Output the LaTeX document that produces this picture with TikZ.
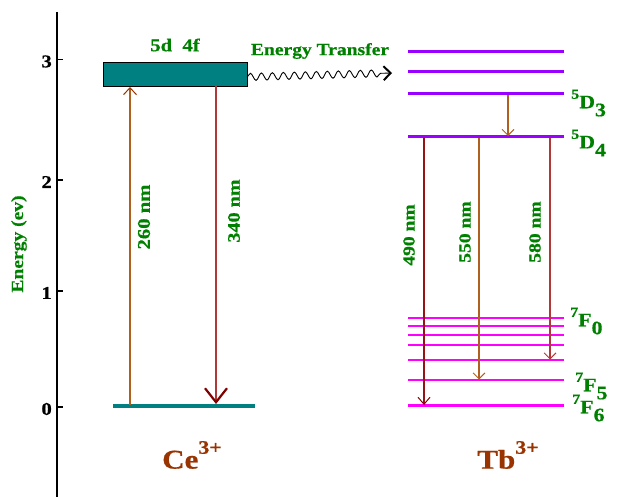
\documentclass[tikz,border=0pt]{standalone}
\usepackage{fontspec}
\newfontfamily\lf{Liberation Serif}[FakeStretch=1.15,FakeBold=0.6]
\usetikzlibrary{arrows.meta,decorations.pathmorphing}
\newcommand\myfs[1]{\fontsize{#1}{#1}\selectfont}
\newcommand\lvl[3]{\raisebox{0.5em}{\myfs{14}#1}#2\raisebox{-0.42em}{#3}}
\definecolor{tgreen}{RGB}{0,128,0}
\definecolor{tteal}{RGB}{0,128,128}
\definecolor{tbrown}{RGB}{153,51,0}
\definecolor{tviolet}{RGB}{153,0,255}
\definecolor{tmag}{RGB}{255,0,255}
\definecolor{aorange}{RGB}{176,96,30}
\definecolor{ared}{RGB}{176,56,56}
\definecolor{adark}{RGB}{150,20,20}
\definecolor{headdark}{RGB}{128,0,0}
\begin{document}
\begin{tikzpicture}[x=1pt,y=-1pt,
  lab/.style={font=\lf\bfseries\myfs{17}, text=tgreen, inner sep=0pt},
  ionlab/.style={font=\lf\bfseries\myfs{27}, text=tbrown, inner sep=0pt},
  ticklab/.style={font=\lf\bfseries\myfs{18}, inner sep=0pt, anchor=east},
  vio/.style={tviolet, line width=3pt},
  mag/.style={tmag, line width=2pt},
  smallhead/.style={-{Straight Barb[length=6pt,width=12pt,line width=0.9pt]}},
  tr/.style={line width=1.1pt, smallhead}
]
\useasboundingbox (0,0) rectangle (635,497);
% axis
\coordinate (axtop) at (57,12);
\coordinate (axbot) at (57,497);
\draw[line width=1.3pt] (axtop) -- (axbot);
\foreach \v/\yy in {3/59.5,2/180,1/291,0/407}{
  \coordinate (t\v) at (57,\yy);
  \coordinate (te\v) at (63,\yy);
  \draw[line width=1.3pt] (t\v) -- (te\v);
  \node[ticklab] (tl\v) at (52,\yy+2) {\v};
}
\node[lab, font=\lf\bfseries\myfs{17}, rotate=90] (elab) at (19,244) {Energy (ev)};
% Ce levels
\node[draw=black, line width=0.9pt, fill=tteal, minimum width=144pt, minimum height=24pt, inner sep=0pt] (box) at (175,74) {};
\node[lab, font=\lf\bfseries\myfs{18}] (boxlab) at (175,45) {5d\ \ 4f};
\coordinate (gl) at (113,405.7);
\coordinate (gr) at (255,405.7);
\draw[tteal, line width=4pt] (gl) -- (gr);
\coordinate (a1s) at (130,405);
\coordinate (a1e) at (130,87);
\draw[aorange, line width=1.1pt, -{Straight Barb[length=7pt,width=13pt,line width=1pt,color=tbrown]}] (a1s) -- (a1e);
\coordinate (a2s) at (216,86.5);
\coordinate (a2e) at (216,404);
\draw[ared, line width=1.3pt, -{Straight Barb[length=14pt,width=22pt,line width=2.2pt,color=headdark]}] (a2s) -- (a2e);
\node[lab, font=\lf\bfseries\myfs{18}, rotate=90] (l260) at (144,217) {260 nm};
\node[lab, font=\lf\bfseries\myfs{17.5}, rotate=90] (l340) at (234,211) {340 nm};
\node[ionlab] (ce) at (192,455) {Ce\raisebox{0.55em}{\myfs{19}3+}};
% energy transfer
\coordinate (ws) at (247,77);
\coordinate (we) at (392,73);
\draw[line width=0.9pt, decorate, decoration={snake, segment length=11pt, amplitude=3.6pt, post length=10pt},
  -{Straight Barb[length=7pt,width=14pt,line width=2pt]}] (ws) -- (we);
\node[lab] (etlab) at (320,51) {Energy Transfer};
% Tb levels
\foreach \n/\yy in {a/51.7,b/71.7,c/94,d/137}{
  \coordinate (v\n l) at (408,\yy);
  \coordinate (v\n r) at (564,\yy);
  \draw[vio] (v\n l) -- (v\n r);
}
\foreach \n/\yy in {a/317.7,b/326.3,c/335,d/345,e/360,f/380}{
  \coordinate (m\n l) at (408,\yy);
  \coordinate (m\n r) at (564,\yy);
  \draw[mag] (m\n l) -- (m\n r);
}
\coordinate (mgl) at (408,405.7);
\coordinate (mgr) at (564,405.7);
\draw[tmag, line width=3.5pt] (mgl) -- (mgr);
\node[lab, font=\lf\bfseries\myfs{19}, anchor=west] (d3) at (571,103) {\lvl{5}{D}{3}};
\node[lab, font=\lf\bfseries\myfs{19}, anchor=west] (d4) at (571,143) {\lvl{5}{D}{4}};
\node[lab, font=\lf\bfseries\myfs{19}, anchor=west] (f0) at (570,321) {\lvl{7}{F}{0}};
\node[lab, font=\lf\bfseries\myfs{19}, anchor=west] (f5) at (575,386) {\lvl{7}{F}{5}};
\node[lab, font=\lf\bfseries\myfs{19}, anchor=west] (f6) at (572,408) {\lvl{7}{F}{6}};
% transitions
\coordinate (r1s) at (508,95.5);
\coordinate (r1e) at (508,136);
\draw[aorange, tr] (r1s) -- (r1e);
\coordinate (e1s) at (424,138.5);
\coordinate (e1e) at (424,405);
\draw[adark, line width=1.3pt, -{Straight Barb[length=7pt,width=12pt,line width=1pt,color=headdark]}] (e1s) -- (e1e);
\coordinate (e2s) at (479,138.5);
\coordinate (e2e) at (479,379.5);
\draw[aorange, tr] (e2s) -- (e2e);
\coordinate (e3s) at (550,138.5);
\coordinate (e3e) at (550,359.5);
\draw[ared, tr] (e3s) -- (e3e);
\node[lab, rotate=90] (l490) at (409,235) {490 nm};
\node[lab, rotate=90] (l550) at (465,232) {550 nm};
\node[lab, rotate=90] (l580) at (535,232) {580 nm};
\node[ionlab] (tb) at (508,455) {Tb\raisebox{0.55em}{\myfs{19}3+}};
\end{tikzpicture}
\end{document}
